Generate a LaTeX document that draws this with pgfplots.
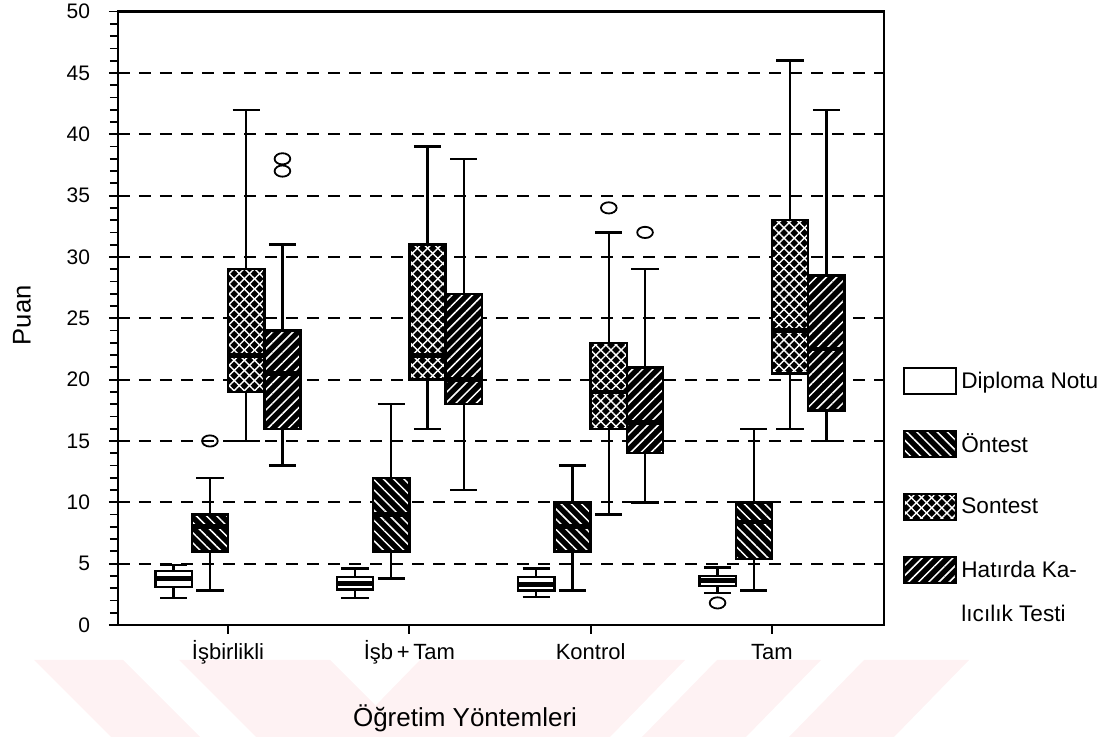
\documentclass[border=0pt]{standalone}
\usepackage{pgfplots}
\pgfplotsset{compat=1.18}
\usepgfplotslibrary{statistics}
\usetikzlibrary{patterns.meta}
\usepackage{fontspec}
\setmainfont{Liberation Sans}
\definecolor{wm}{RGB}{254,242,243}
\tikzset{
  dipF/.style={fill=white},
  onF/.style={fill=black, postaction={pattern={Lines[angle=-45,distance=3.6pt,line width=0.75pt]}, pattern color=white}},
  sonF/.style={fill=black,
     postaction={pattern={Lines[angle=45,distance=3.6pt,line width=0.7pt]}, pattern color=white},
     postaction={pattern={Lines[angle=-45,distance=3.6pt,line width=0.7pt]}, pattern color=white}},
  hatF/.style={fill=black, postaction={pattern={Lines[angle=45,distance=3.6pt,line width=0.75pt]}, pattern color=white}},
}
\pgfplotsset{
  bxs/.style={solid, draw=black, line width=1.2pt, mark=none},
}
\newcommand\BOX[7]{%
  \addplot[bxs, forget plot, boxplot/every box/.style={#1},
    boxplot prepared={draw position=#2, lower whisker=#3, lower quartile=#4,
      median=#5, upper quartile=#6, upper whisker=#7}] coordinates {};}
\begin{document}
\begin{tikzpicture}
\useasboundingbox (-59pt,-56pt) rectangle (500.5pt,312.5pt);
% watermark
\fill[wm] (-42pt,-17.5pt) -- (2.5pt,-17.5pt) -- (41pt,-56pt) -- (-3.5pt,-56pt) -- cycle;
\fill[wm] (30.5pt,-17.5pt) -- (106pt,-17.5pt) -- (144.5pt,-56pt) -- (69pt,-56pt) -- cycle;
\fill[wm] (151pt,-17.5pt) -- (283.5pt,-17.5pt) -- (246pt,-56pt) -- (113.5pt,-56pt) -- cycle;
\fill[wm] (299.5pt,-17.5pt) -- (351.5pt,-17.5pt) -- (314pt,-56pt) -- (262pt,-56pt) -- cycle;
\fill[wm] (373pt,-17.5pt) -- (425.5pt,-17.5pt) -- (388pt,-56pt) -- (335.5pt,-56pt) -- cycle;
\begin{axis}[
  scale only axis, width=383pt, height=306.7pt,
  xmin=0.393, xmax=4.618, ymin=0, ymax=50,
  xtick={1,2,3,4}, xticklabels={İşbirlikli,İşb\,+\,Tam,Kontrol,Tam},
  ytick={0,5,...,50}, minor y tick num=4,
  tick pos=left, tick align=outside,
  major tick length=4.5pt, minor tick length=4pt,
  every tick/.style={black, line width=0.9pt},
  axis line style={line width=1.2pt},
  ymajorgrids=true,
  grid style={black, dash pattern=on 6pt off 4.5pt, line width=1.1pt},
  /pgf/number format/assume math mode=true,
  yticklabel style={font=\fontsize{10.5}{12}\selectfont, xshift=-6pt},
  xticklabel style={font=\fontsize{11}{13}\selectfont, text height=9pt, text depth=2.5pt},
  xlabel={Öğretim Yöntemleri}, ylabel={Puan},
  every axis x label/.style={at={(axis description cs:0.453,-0.1517)}, anchor=center, font=\fontsize{13}{15}\selectfont},
  every axis y label/.style={at={(axis description cs:-0.1253,0.505)}, anchor=center, rotate=90, font=\fontsize{12.8}{15}\selectfont},
  boxplot/draw direction=y, boxplot/box extend=0.2, boxplot/whisker extend=0.15,
  boxplot/every median/.style={line width=2.4pt},
  legend style={draw=none, fill=none, at={(axis description cs:1.0248,0.4206)}, anchor=north west,
     inner sep=0pt, row sep=17pt, font=\fontsize{11.3}{13}\selectfont},
  legend cell align=left,
]
% group 1 (with legend)
\addplot[bxs, boxplot/every box/.style={dipF},
  legend image code/.code={\draw[black, line width=1pt, dipF] (0pt,-6.5pt) rectangle (26pt,6.5pt);},
  boxplot prepared={draw position=0.7, lower whisker=2.2, lower quartile=3.1, median=3.8, upper quartile=4.4, upper whisker=4.9}] coordinates {};
\addlegendentry{Diploma Notu}
\addplot[bxs, boxplot/every box/.style={onF},
  legend image code/.code={\draw[black, line width=1pt, onF] (0pt,-6.5pt) rectangle (26pt,6.5pt);},
  boxplot prepared={draw position=0.9, lower whisker=2.8, lower quartile=6, median=8, upper quartile=9, upper whisker=12}] coordinates {};
\addlegendentry{Öntest}
\addplot[bxs, boxplot/every box/.style={sonF},
  legend image code/.code={\draw[black, line width=1pt, sonF] (0pt,-6.5pt) rectangle (26pt,6.5pt);},
  boxplot prepared={draw position=1.1, lower whisker=15, lower quartile=19, median=22, upper quartile=29, upper whisker=42}] coordinates {};
\addlegendentry{Sontest}
\addplot[bxs, boxplot/every box/.style={hatF},
  legend image code/.code={\draw[black, line width=1pt, hatF] (0pt,-6.5pt) rectangle (26pt,6.5pt);},
  boxplot prepared={draw position=1.3, lower whisker=13, lower quartile=16, median=20.5, upper quartile=24, upper whisker=31}] coordinates {};
\addlegendentry{\raisebox{0pt}[\height][0pt]{\begin{tabular}[t]{@{}l@{}}Hatırda Ka-\\[9pt]lıcılık Testi\end{tabular}}}
% group 2
\BOX{dipF}{1.7}{2.2}{2.9}{3.4}{3.9}{4.6}
\BOX{onF}{1.9}{3.8}{6}{9}{12}{18}
\BOX{sonF}{2.1}{16}{20}{22}{31}{39}
\BOX{hatF}{2.3}{11}{18}{20}{27}{38}
% group 3
\BOX{dipF}{2.7}{2.3}{2.8}{3.3}{3.9}{4.6}
\BOX{onF}{2.9}{2.8}{6}{8}{10}{13}
\BOX{sonF}{3.1}{9}{16}{19}{23}{32}
\BOX{hatF}{3.3}{10}{14}{16.5}{21}{29}
% group 4
\BOX{dipF}{3.7}{2.6}{3.2}{3.6}{4.0}{4.7}
\BOX{onF}{3.9}{2.8}{5.4}{8.4}{10}{16}
\BOX{sonF}{4.1}{16}{20.5}{24}{33}{46}
\BOX{hatF}{4.3}{15}{17.5}{22.5}{28.5}{42}
% outliers
\addplot[forget plot, only marks, mark=o, mark size=2.8pt, mark options={solid, draw=black, fill=white, line width=0.9pt, xscale=1.4}]
  coordinates {(0.9,15) (1.3,37) (1.3,38) (3.1,34) (3.3,32) (3.7,1.8)};
\end{axis}
\end{tikzpicture}
\end{document}
